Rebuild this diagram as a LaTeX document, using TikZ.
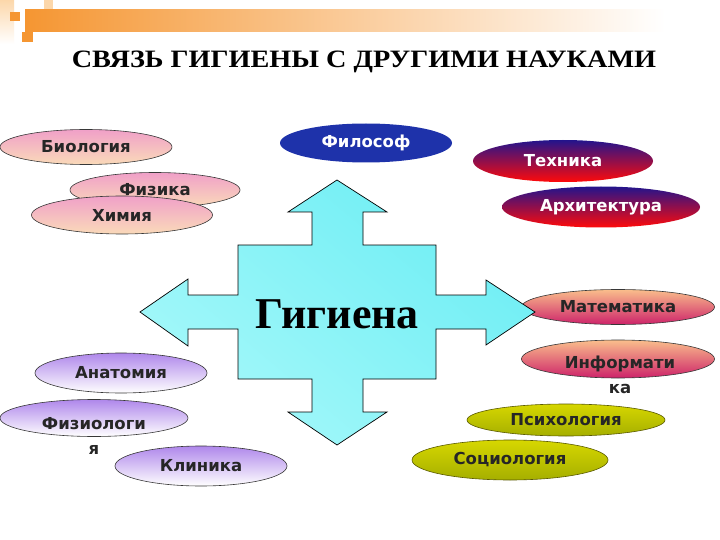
\documentclass[tikz,border=0pt]{standalone}
\usepackage{fontspec}
\setmainfont{Liberation Serif}
\newfontfamily\blobfont{DejaVu Sans}
\usetikzlibrary{shapes.geometric}

\definecolor{barorange}{RGB}{245,150,50}
\definecolor{paleorange}{RGB}{252,215,170}
\definecolor{pinktop}{RGB}{240,160,200}
\definecolor{pinkbot}{RGB}{250,218,185}
\definecolor{bluedark}{RGB}{30,50,170}
\definecolor{bluemid}{RGB}{85,125,235}
\definecolor{techtop}{RGB}{35,20,140}
\definecolor{techmid}{RGB}{150,20,130}
\definecolor{techbot}{RGB}{255,10,10}
\definecolor{mathtop}{RGB}{250,190,140}
\definecolor{mathmid}{RGB}{250,215,205}
\definecolor{mathbot}{RGB}{205,35,105}
\definecolor{yeltop}{RGB}{215,215,0}
\definecolor{yelbot}{RGB}{165,175,0}
\definecolor{lavtop}{RGB}{175,135,235}
\definecolor{crosstop}{RGB}{110,238,244}
\definecolor{crossmid}{RGB}{60,232,240}
\definecolor{crossbot}{RGB}{165,248,250}
\definecolor{outline}{RGB}{55,55,55}

\tikzset{every picture/.style={line width=0.6pt}}
\tikzset{
  blob/.style={ellipse, inner sep=0pt, draw=outline,
    font=\blobfont\bfseries\fontsize{16.5}{25}\selectfont, text=black!85, align=center},
  pinkblob/.style={blob, top color=pinktop, bottom color=pinkbot},
  blueblob/.style={blob, draw=none, top color=bluedark, middle color=bluemid, bottom color=bluedark, text=white},
  techblob/.style={blob, draw=none, top color=techtop, middle color=techmid, bottom color=techbot, text=white},
  mathblob/.style={blob, top color=mathtop, middle color=mathmid, bottom color=mathbot},
  yelblob/.style={blob, draw={rgb,255:red,90;green,90;blue,0}, top color=yeltop, bottom color=yelbot},
  lavblob/.style={blob, top color=lavtop, bottom color=white},
  blobtext/.style={font=\blobfont\bfseries\fontsize{16.5}{25}\selectfont, text=black!85, align=center, inner sep=0pt}
}

\begin{document}
\begin{tikzpicture}[x=1pt,y=1pt,yscale=-1,xscale=1]
	\useasboundingbox (0,0) rectangle (720,540);
	\fill[white] (0,0) rectangle (720,540);

	%Shape: top bar
	\shade[left color=barorange, right color=white] (25,10) rectangle (665,32);
	\shade[top color=paleorange, bottom color=white] (0,0) rectangle (14,44);
	\fill[paleorange] (44,0) rectangle (53,9);
	\fill[barorange] (10,12) rectangle (20,21);
	\fill[barorange] (22,32) rectangle (33,42);

	% Text Node
	\node (title) [anchor=base, font=\bfseries\fontsize{25}{28}\selectfont] at (364,68) {\scalebox{1.13}[1]{СВЯЗЬ ГИГИЕНЫ С ДРУГИМИ НАУКАМИ}};

	%Shape: Ellipses, left top
	\node (bio) [pinkblob, minimum width=172pt, minimum height=35pt] at (86,147) {Биология};
	\node (phys) [pinkblob, minimum width=170pt, minimum height=35pt] at (155,190) {Физика};
	\node (chem) [pinkblob, minimum width=181pt, minimum height=38pt] at (122,215) {Химия};

	%Shape: Ellipse, top
	\node (philo) [blueblob, minimum width=172pt, minimum height=39pt] at (366,143) {Философ};

	%Shape: Ellipses, right top
	\node (tech) [techblob, minimum width=180pt, minimum height=42pt] at (563,161) {Техника};
	\node (arch) [techblob, minimum width=198pt, minimum height=41pt] at (601,207) {Архитектура};

	%Shape: Ellipses, right
	\node (math) [mathblob, minimum width=193pt, minimum height=35pt] at (618,307) {Математика};
	\node (info) [mathblob, minimum width=193pt, minimum height=38pt] at (618,359) {};
	% Text Node
	\node (infotext) [blobtext] at (620,374.5) {Информати\\ка};

	%Shape: Ellipses, right bottom
	\node (psych) [yelblob, minimum width=198pt, minimum height=32pt] at (566,420) {Психология};
	\node (socio) [yelblob, minimum width=196pt, minimum height=40pt] at (510,460) {Социология};

	%Shape: Ellipses, left bottom
	\node (anat) [lavblob, minimum width=172pt, minimum height=40pt] at (121,373) {Анатомия};
	\node (physio) [lavblob, minimum width=188pt, minimum height=37pt] at (94,418) {};
	\node (clinic) [lavblob, minimum width=172pt, minimum height=40pt] at (201,466) {Клиника};
	% Text Node
	\node (physiotext) [blobtext] at (94,435.5) {Физиологи\\я};

	%Shape: Cross arrow
	\draw [draw=black, line width=0.7pt, top color=crosstop, middle color=crossmid, bottom color=crossbot, shading angle=-40]
	  (337,180) -- (387,212) -- (363,212) -- (363,245) -- (436,245) -- (436,295) -- (486,295) -- (486,280)
	  -- (535,312) -- (486,345) -- (486,329) -- (436,329) -- (436,379) -- (363,379) -- (363,412) -- (387,412)
	  -- (337,445) -- (288,412) -- (312,412) -- (312,379) -- (238,379) -- (238,329) -- (188,329) -- (188,346)
	  -- (140,312) -- (188,279) -- (188,295) -- (238,295) -- (238,245) -- (312,245) -- (312,212) -- (288,212) -- cycle;

	% Text Node
	\node (hyg) [anchor=base, font=\bfseries\fontsize{44}{48}\selectfont] at (337,328) {Гигиена};

\end{tikzpicture}
\end{document}
